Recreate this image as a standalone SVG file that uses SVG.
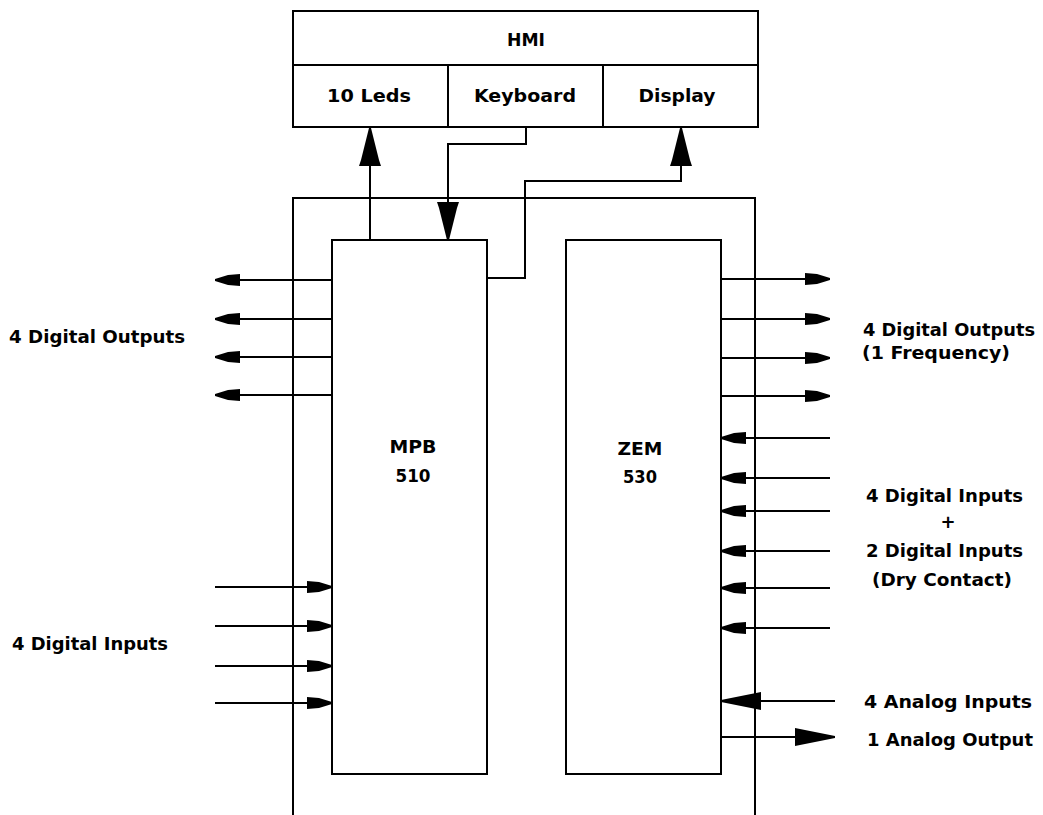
<svg xmlns="http://www.w3.org/2000/svg" width="1043" height="815" viewBox="0 0 1043 815">
<style>
.b{fill:#fff;stroke:#000;stroke-width:2}
.o{fill:none;stroke:#000;stroke-width:2}
.w{fill:none;stroke:#000;stroke-width:2}
text{font-family:"DejaVu Sans","Liberation Sans",sans-serif;font-weight:bold;font-size:18px;fill:#000}
.c{text-anchor:middle}
</style>
<defs>
<marker id="s" viewBox="0 0 25 12" refX="25" refY="6" markerWidth="25" markerHeight="12" markerUnits="userSpaceOnUse" orient="auto"><path d="M0,0 L12,1 L25,5 L25,7 L12,11 L0,12 Z" fill="#000"/></marker>
<marker id="m" viewBox="0 0 38 22" refX="38" refY="11" markerWidth="38" markerHeight="22" markerUnits="userSpaceOnUse" orient="auto"><path d="M0,0 L6,2 L38,10 L38,12 L6,20 L0,22 Z" fill="#000"/></marker>
<marker id="a" viewBox="0 0 40 18" refX="40" refY="9" markerWidth="40" markerHeight="18" markerUnits="userSpaceOnUse" orient="auto"><path d="M0,0 L10,2 L40,8 L40,10 L10,16 L0,18 Z" fill="#000"/></marker>
</defs>
<g id="outer"><path class="o" d="M293,815 V198 H755 V815"/></g>
<g id="hmi">
<rect class="b" x="293" y="11" width="465" height="116"/>
<line class="o" x1="293" y1="65" x2="758" y2="65"/>
<text class="c" x="526" y="46" textLength="38" lengthAdjust="spacingAndGlyphs">HMI</text>
</g>
<g id="leds"><line class="o" x1="448" y1="65" x2="448" y2="127"/><text class="c" x="369" y="102" textLength="84" lengthAdjust="spacingAndGlyphs">10 Leds</text></g>
<g id="keyboard"><line class="o" x1="603" y1="65" x2="603" y2="127"/><text class="c" x="525" y="102" textLength="102" lengthAdjust="spacingAndGlyphs">Keyboard</text></g>
<g id="display"><text class="c" x="677" y="102" textLength="77" lengthAdjust="spacingAndGlyphs">Display</text></g>
<g id="mpb">
<rect class="b" x="332" y="240" width="155" height="534"/>
<text class="c" x="413" y="453" textLength="47" lengthAdjust="spacingAndGlyphs">MPB</text>
<text class="c" x="413" y="482" textLength="35" lengthAdjust="spacingAndGlyphs">510</text>
</g>
<g id="zem">
<rect class="b" x="566" y="240" width="155" height="534"/>
<text class="c" x="640" y="455" textLength="45" lengthAdjust="spacingAndGlyphs">ZEM</text>
<text class="c" x="640" y="483" textLength="34" lengthAdjust="spacingAndGlyphs">530</text>
</g>
<g id="connectors">
<line class="w" x1="370" y1="240" x2="370" y2="128" marker-end="url(#m)"/>
<polyline class="w" points="526,127 526,144 448,144 448,240" marker-end="url(#m)"/>
<polyline class="w" points="487,278 525,278 525,181 681,181 681,128" marker-end="url(#m)"/>
<line class="w" x1="332" y1="280" x2="215" y2="280" marker-end="url(#s)"/>
<line class="w" x1="332" y1="319" x2="215" y2="319" marker-end="url(#s)"/>
<line class="w" x1="332" y1="357" x2="215" y2="357" marker-end="url(#s)"/>
<line class="w" x1="332" y1="395" x2="215" y2="395" marker-end="url(#s)"/>
<line class="w" x1="215" y1="587" x2="332" y2="587" marker-end="url(#s)"/>
<line class="w" x1="215" y1="626" x2="332" y2="626" marker-end="url(#s)"/>
<line class="w" x1="215" y1="666" x2="332" y2="666" marker-end="url(#s)"/>
<line class="w" x1="215" y1="703" x2="332" y2="703" marker-end="url(#s)"/>
<line class="w" x1="721" y1="279" x2="830" y2="279" marker-end="url(#s)"/>
<line class="w" x1="721" y1="319" x2="830" y2="319" marker-end="url(#s)"/>
<line class="w" x1="721" y1="358" x2="830" y2="358" marker-end="url(#s)"/>
<line class="w" x1="721" y1="396" x2="830" y2="396" marker-end="url(#s)"/>
<line class="w" x1="830" y1="438" x2="721" y2="438" marker-end="url(#s)"/>
<line class="w" x1="830" y1="478" x2="721" y2="478" marker-end="url(#s)"/>
<line class="w" x1="830" y1="511" x2="721" y2="511" marker-end="url(#s)"/>
<line class="w" x1="830" y1="551" x2="721" y2="551" marker-end="url(#s)"/>
<line class="w" x1="830" y1="588" x2="721" y2="588" marker-end="url(#s)"/>
<line class="w" x1="830" y1="628" x2="721" y2="628" marker-end="url(#s)"/>
<line class="w" x1="835" y1="701" x2="721" y2="701" marker-end="url(#a)"/>
<line class="w" x1="721" y1="737" x2="835" y2="737" marker-end="url(#a)"/>
</g>
<g id="labels">
<text x="9" y="343" textLength="176" lengthAdjust="spacingAndGlyphs">4 Digital Outputs</text>
<text x="12" y="650" textLength="156" lengthAdjust="spacingAndGlyphs">4 Digital Inputs</text>
<text x="863" y="336" textLength="172" lengthAdjust="spacingAndGlyphs">4 Digital Outputs</text>
<text x="862" y="359" textLength="148" lengthAdjust="spacingAndGlyphs">(1 Frequency)</text>
<text x="866" y="502" textLength="157" lengthAdjust="spacingAndGlyphs">4 Digital Inputs</text>
<text class="c" x="948" y="528">+</text>
<text x="866" y="557" textLength="157" lengthAdjust="spacingAndGlyphs">2 Digital Inputs</text>
<text x="872" y="586" textLength="140" lengthAdjust="spacingAndGlyphs">(Dry Contact)</text>
<text x="864" y="708" textLength="168" lengthAdjust="spacingAndGlyphs">4 Analog Inputs</text>
<text x="867" y="746" textLength="166" lengthAdjust="spacingAndGlyphs">1 Analog Output</text>
</g>
</svg>
